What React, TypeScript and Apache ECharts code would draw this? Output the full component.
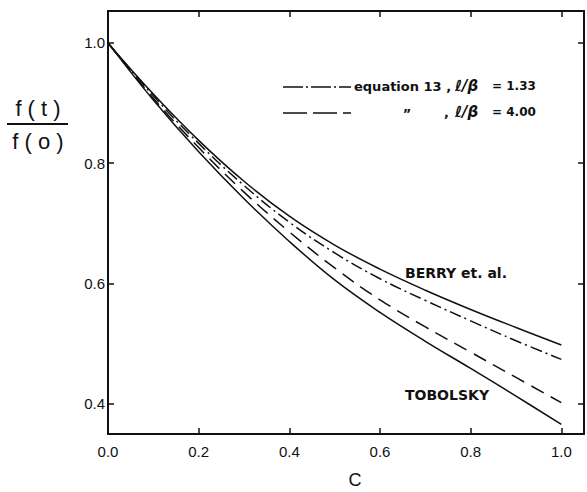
import React, { useEffect, useRef } from "react";
import * as echarts from "echarts";

// concentration c
const cValues = [0, 0.1, 0.2, 0.3, 0.4, 0.5, 0.6, 0.7, 0.8, 0.9, 1.0];
// f(t)/f(o) curves
const berry = [1.0, 0.915, 0.838, 0.77, 0.712, 0.664, 0.624, 0.589, 0.557, 0.527, 0.498];
const eq13a = [1.0, 0.912, 0.833, 0.763, 0.702, 0.651, 0.608, 0.572, 0.538, 0.505, 0.474];
const eq13b = [1.0, 0.908, 0.826, 0.752, 0.686, 0.626, 0.573, 0.528, 0.486, 0.444, 0.402];
const tobolsky = [1.0, 0.905, 0.819, 0.741, 0.67, 0.606, 0.552, 0.504, 0.459, 0.413, 0.366];

const xTicks = [0, 0.2, 0.4, 0.6, 0.8, 1.0];
const yTicks = [0.4, 0.6, 0.8, 1.0];

const INK = "#111";
const FONT = "'Liberation Sans', Arial, sans-serif";
const LFONT = "'DejaVu Sans', sans-serif";

export default function App() {
  const ref = useRef<HTMLDivElement>(null);
  useEffect(() => {
    if (!ref.current) return;
    const chart = echarts.init(ref.current, null, { renderer: "svg" });
    const pts = (arr: number[]) => cValues.map((c, i) => [c, arr[i]]);
    const lineBase = { type: "line", symbol: "none", smooth: 0.4, silent: true };
    const boxLine = { show: true, onZero: false, lineStyle: { color: INK, width: 2 } };
    const tick = { show: true, inside: true, length: 6, lineStyle: { color: INK, width: 1.5 } };
    const txt = (x: number, y: number, text: string, font: string, align = "left") => ({
      type: "text",
      x,
      y,
      style: { text, font, fill: INK, align, verticalAlign: "middle", textAlign: align, textVerticalAlign: "middle" },
    });
    const option: any = {
      animation: false,
      backgroundColor: "#fff",
      grid: { left: 108, right: 3, top: 11, bottom: 58 },
      xAxis: [
        {
          type: "value",
          min: 0,
          max: 1.05,
          axisLine: boxLine,
          axisTick: { ...tick, customValues: xTicks },
          splitLine: { show: false },
          axisLabel: {
            customValues: xTicks,
            formatter: (v: number) => v.toFixed(1),
            color: INK,
            fontFamily: FONT,
            fontSize: 15,
            margin: 10,
          },
        },
        {
          type: "value",
          position: "top",
          min: 0,
          max: 1.05,
          axisLine: boxLine,
          axisTick: { ...tick, customValues: xTicks },
          axisLabel: { show: false },
          splitLine: { show: false },
        },
      ],
      yAxis: [
        {
          type: "value",
          min: 0.35,
          max: 1.053,
          axisLine: boxLine,
          axisTick: { ...tick, customValues: yTicks },
          splitLine: { show: false },
          axisLabel: {
            customValues: yTicks,
            formatter: (v: number) => v.toFixed(1),
            color: INK,
            fontFamily: FONT,
            fontSize: 15,
            margin: 3,
          },
        },
        {
          type: "value",
          position: "right",
          min: 0.35,
          max: 1.053,
          axisLine: boxLine,
          axisTick: { ...tick, customValues: yTicks },
          axisLabel: { show: false },
          splitLine: { show: false },
        },
      ],
      series: [
        { ...lineBase, name: "BERRY et. al.", data: pts(berry), lineStyle: { color: INK, width: 1.5 } },
        { ...lineBase, name: "equation 13, l/b = 1.33", data: pts(eq13a), lineStyle: { color: INK, width: 1.5, type: [12, 4, 2, 4] } },
        { ...lineBase, name: "equation 13, l/b = 4.00", data: pts(eq13b), lineStyle: { color: INK, width: 1.5, type: [14, 8] } },
        { ...lineBase, name: "TOBOLSKY", data: pts(tobolsky), lineStyle: { color: INK, width: 1.5 } },
      ],
      graphic: [
        // y axis name as a fraction
        txt(38, 108, "f ( t )", `22px ${FONT}`, "center"),
        { type: "line", shape: { x1: 7, y1: 124, x2: 68, y2: 124 }, style: { stroke: INK, lineWidth: 2 } },
        txt(38, 141, "f ( o )", `22px ${FONT}`, "center"),
        // x axis name
        txt(355, 480, "C", `18px ${FONT}`, "center"),
        // legend row 1
        { type: "line", shape: { x1: 283, y1: 87, x2: 351, y2: 87 }, style: { stroke: INK, lineWidth: 1.5, lineDash: [20, 3, 2, 3] } },
        txt(354, 86, "equation 13 ,", `bold 13px ${LFONT}`),
        txt(455, 86, "ℓ/β", `bold italic 15px ${LFONT}`),
        txt(492, 86, "= 1.33", `bold 12px ${LFONT}`),
        // legend row 2
        { type: "line", shape: { x1: 283, y1: 113, x2: 351, y2: 113 }, style: { stroke: INK, lineWidth: 1.5, lineDash: [24, 6] } },
        txt(407, 113, "\u201D", `bold 13px ${LFONT}`, "center"),
        txt(444, 112, ",", `bold 13px ${LFONT}`),
        txt(455, 112, "ℓ/β", `bold italic 15px ${LFONT}`),
        txt(492, 112, "= 4.00", `bold 12px ${LFONT}`),
        // curve labels
        txt(405, 273, "BERRY et. al.", `bold 14px ${LFONT}`),
        txt(405, 395, "TOBOLSKY", `bold 14px ${LFONT}`),
      ],
    };
    chart.setOption(option);
    return () => chart.dispose();
  }, []);
  return (
    <div
      ref={ref}
      style={{ position: "absolute", left: 0, top: 0, width: 587, height: 492, background: "#fff" }}
    />
  );
}
